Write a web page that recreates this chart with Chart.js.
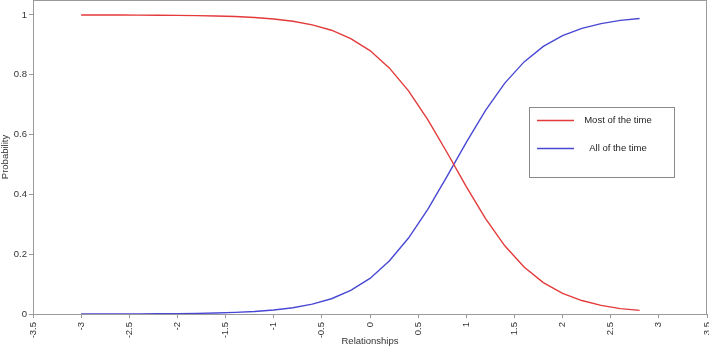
<!DOCTYPE html>
<html>
<head>
<meta charset="utf-8">
<script src="https://cdn.jsdelivr.net/npm/chart.js@4/dist/chart.umd.min.js"></script>
<style>
html,body{margin:0;padding:0;background:#fff;}
#wrap{width:709px;height:347px;}
</style>
</head>
<body>
<div id="wrap"><canvas id="c" width="709" height="347"></canvas></div>
<script>
const relationships = [-3,-2.8,-2.6,-2.4,-2.2,-2,-1.8,-1.6,-1.4,-1.2,-1,-0.8,-0.6,-0.4,-0.2,0,0.2,0.4,0.6,0.8,1,1.2,1.4,1.6,1.8,2,2.2,2.4,2.6,2.8];
const mostOfTheTime = [0.9999,0.9998,0.9997,0.9995,0.9991,0.9986,0.9979,0.9966,0.9946,0.9915,0.9866,0.979,0.967,0.949,0.921,0.881,0.823,0.746,0.650,0.540,0.426,0.319,0.228,0.157,0.105,0.069,0.045,0.029,0.018,0.012];
const allOfTheTime = [0.0001,0.0002,0.0003,0.0005,0.0009,0.0014,0.0021,0.0034,0.0054,0.0085,0.0134,0.021,0.033,0.051,0.079,0.119,0.177,0.254,0.350,0.460,0.574,0.681,0.772,0.843,0.895,0.931,0.955,0.971,0.982,0.988];
const seriesNames = ["Most of the time","All of the time"];
const xTicks = [-3.5,-3,-2.5,-2,-1.5,-1,-0.5,0,0.5,1,1.5,2,2.5,3,3.5];
const yTicks = [0,0.2,0.4,0.6,0.8,1];

const RED = 'rgb(228,58,58)';
const BLUE = 'rgb(72,72,212)';
const GREY = '#9a9a9a';
const FONT = 'Liberation Sans, Arial, sans-serif';

const boxPlugin = {
  id: 'boxPlugin',
  afterDraw(chart) {
    const {ctx, chartArea: a} = chart;
    ctx.save();
    ctx.strokeStyle = GREY;
    ctx.lineWidth = 1;
    ctx.strokeRect(a.left + 0.5, a.top + 0.5, a.right - a.left - 1, a.bottom - a.top);
    // legend box
    const lx = 529, ly = 107, lw = 145, lh = 70;
    ctx.fillStyle = '#fff';
    ctx.fillRect(lx, ly, lw, lh);
    ctx.strokeStyle = '#8a8a8a';
    ctx.strokeRect(lx + 0.5, ly + 0.5, lw, lh);
    const rows = [120, 148];
    chart.data.datasets.forEach((ds, i) => {
      ctx.strokeStyle = ds.borderColor;
      ctx.lineWidth = 1.3;
      ctx.beginPath();
      ctx.moveTo(537, rows[i] + 0.5);
      ctx.lineTo(574, rows[i] + 0.5);
      ctx.stroke();
      ctx.fillStyle = '#222';
      ctx.font = '9.5px ' + FONT;
      ctx.textAlign = 'center';
      ctx.textBaseline = 'middle';
      ctx.fillText(ds.label, 618, rows[i]);
    });
    ctx.restore();
  }
};

new Chart(document.getElementById('c'), {
  type: 'line',
  data: {
    datasets: [
      {label: seriesNames[0], data: relationships.map((x, i) => ({x, y: mostOfTheTime[i]})), borderColor: RED, borderWidth: 1.4, pointRadius: 0, tension: 0, fill: false},
      {label: seriesNames[1], data: relationships.map((x, i) => ({x, y: allOfTheTime[i]})), borderColor: BLUE, borderWidth: 1.4, pointRadius: 0, tension: 0, fill: false}
    ]
  },
  options: {
    responsive: false,
    animation: false,
    layout: {padding: {top: 0, right: 2, left: 0, bottom: 0}},
    plugins: {legend: {display: false}, tooltip: {enabled: false}},
    scales: {
      x: {
        type: 'linear', min: -3.5, max: 3.5,
        afterBuildTicks: s => { s.ticks = xTicks.map(v => ({value: v})); },
        afterFit: s => { s.height = 33; s.paddingLeft = 0; s.paddingRight = 0; },
        ticks: {color: '#333', font: {size: 9.5, family: FONT}, minRotation: 90, maxRotation: 90, padding: 4,
          callback: v => String(v)},
        grid: {display: true, drawOnChartArea: false, drawTicks: true, tickLength: 4, tickColor: GREY},
        border: {display: true, color: GREY},
        title: {display: true, text: 'Relationships', color: '#333', font: {size: 9.5, family: FONT}, padding: {top: 0, bottom: 0}}
      },
      y: {
        type: 'linear', min: 0, max: 1.05,
        afterBuildTicks: s => { s.ticks = yTicks.map(v => ({value: v})); },
        afterFit: s => { s.width = 33; s.paddingTop = 0; s.paddingBottom = 0; },
        ticks: {color: '#333', font: {size: 9.5, family: FONT}, padding: 2, callback: v => String(v)},
        grid: {display: true, drawOnChartArea: false, drawTicks: true, tickLength: 4, tickColor: GREY},
        border: {display: true, color: GREY},
        title: {display: true, text: 'Probability', color: '#333', font: {size: 9.5, family: FONT}, padding: {top: 0, bottom: 0}}
      }
    }
  },
  plugins: [boxPlugin]
});
</script>
</body>
</html>
